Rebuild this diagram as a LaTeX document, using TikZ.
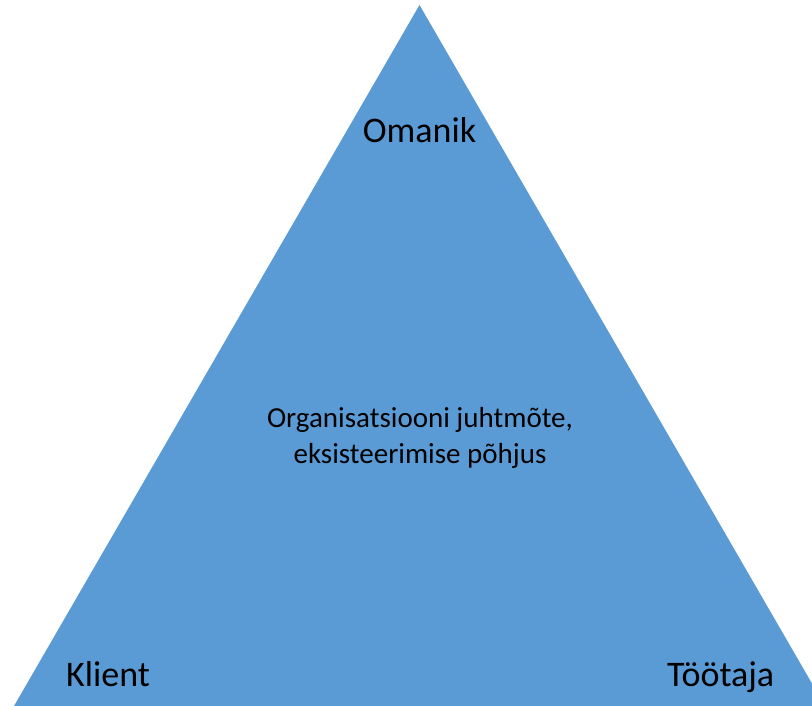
\documentclass[tikz,border=0pt]{standalone}
\usepackage{fontspec}
\setmainfont{Carlito}
\definecolor{triblue}{HTML}{5B9BD5}
\begin{document}
\begin{tikzpicture}[x=1pt,y=1pt,
  label/.style={font=\fontsize{36}{43}\selectfont, text=black, inner sep=0pt},
  centre/.style={font=\fontsize{29}{36}\selectfont, text=black, inner sep=0pt, align=center}]
\useasboundingbox (0,0) rectangle (812,706);
\begin{scope}
\clip (0,0) rectangle (812,706);
\fill[triblue] (419.5,701) -- (14,0) -- (825,0) -- cycle;
\end{scope}
\node[label, anchor=base] (owner) at (419.5,563) {Omanik};
\node[centre, anchor=base] (mission) at (420,242.5) {Organisatsiooni juhtmõte,\\eksisteerimise põhjus};
\node[label, anchor=base west] (client) at (66,19) {Klient};
\node[label, anchor=base west] (worker) at (667,19) {Töötaja};
\end{tikzpicture}
\end{document}
